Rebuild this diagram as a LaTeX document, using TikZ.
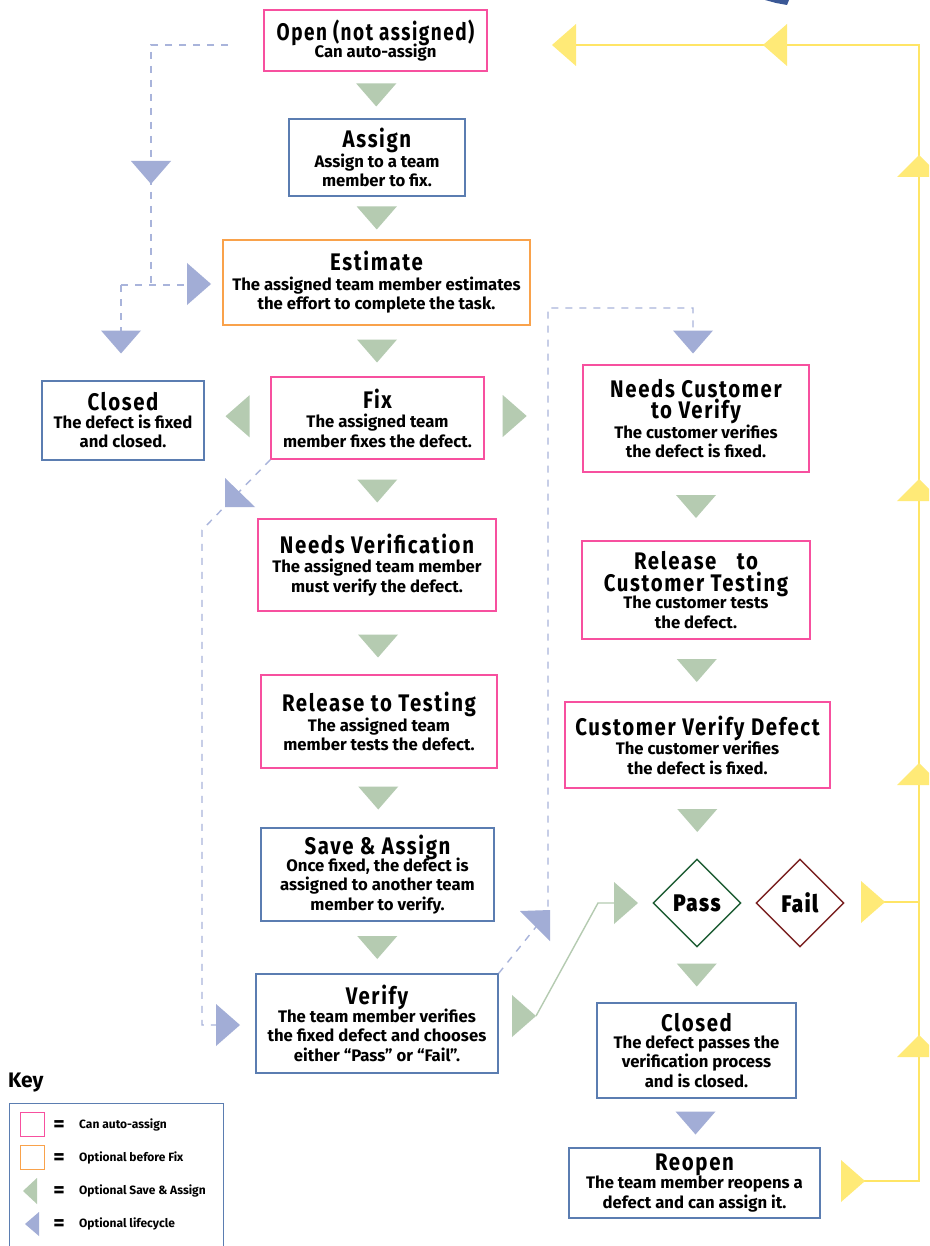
\documentclass[tikz,border=0pt]{standalone}
\usepackage{fontspec}
\usepackage{graphicx}
\usetikzlibrary{calc,shapes.geometric}
\setmainfont{Fira Sans}
\IfFontExistsTF{Fira Sans Black}
 {\newfontfamily\tfam[LetterSpace=8]{Fira Sans Black}\newcommand\tfnt{\tfam}}
 {\newfontfamily\tfam[LetterSpace=8,FakeBold=1.6]{Fira Sans}\newcommand\tfnt{\tfam\bfseries}}
\newcommand\ttl[2][0.85]{\scalebox{#1}[1]{\tfnt\fontsize{24}{25}\selectfont #2}}
\newcommand\bodyf{\fontsize{16.7}{19.5}\selectfont\bfseries}
\definecolor{pinkc}{HTML}{F7509F}
\definecolor{orangec}{HTML}{F9A24B}
\definecolor{bluec}{HTML}{5B7DB1}
\definecolor{gfill}{HTML}{B5CBB1}
\definecolor{bfill}{HTML}{A2ADD6}
\definecolor{dashc}{HTML}{A9B4DB}
\definecolor{yfill}{HTML}{FFEA77}
\definecolor{ylinec}{HTML}{FFE566}
\definecolor{passc}{HTML}{1F5E35}
\definecolor{failc}{HTML}{7B2222}
\definecolor{topblue}{HTML}{3A5896}
\begin{document}
\begin{tikzpicture}[x=1pt,y=-1pt,
  box/.style={draw, line width=1.4pt, fill=white, align=center, inner sep=2pt, font=\bodyf},
  pinkbox/.style={box, draw=pinkc},
  bluebox/.style={box, draw=bluec},
  orangebox/.style={box, draw=orangec},
  dia/.style={diamond, aspect=1, minimum size=88pt, inner sep=0pt, line width=1.4pt, fill=white},
  dashln/.style={draw=dashc, line width=1.4pt, dash pattern=on 7pt off 7pt},
  yline/.style={draw=ylinec, line width=2pt},
  gline/.style={draw=gfill, line width=1.4pt},
  pics/tridown/.style={code={\fill[#1] (-20,-11.5) -- (20,-11.5) -- (0,11.5) -- cycle;}},
  pics/triup/.style={code={\fill[#1] (-22,11) -- (22,11) -- (0,-11) -- cycle;}},
  pics/trileft/.style={code={\fill[#1] (12,-21) -- (12,21) -- (-12,0) -- cycle;}},
  pics/triright/.style={code={\fill[#1] (-12,-21) -- (-12,21) -- (12,0) -- cycle;}},
  keytxt/.style={anchor=west, inner sep=0pt, font=\fontsize{12}{13}\selectfont\bfseries},
  keyeq/.style={inner sep=0pt, font=\fontsize{22}{22}\selectfont\bfseries}
]
\useasboundingbox (0,0) rectangle (929,1246);
\clip (0,0) rectangle (929,1246);
\fill[white] (0,0) rectangle (929,1246);

% ---------- left column ----------
\node[pinkbox, minimum width=223pt, minimum height=61pt] (open) at (375.5,40.5)
  {\ttl[0.79]{Open (not assigned)}\\[-2pt] Can auto-assign};
\node[bluebox, minimum width=176pt, minimum height=77pt] (assign) at (377,157.5)
  {\ttl{Assign}\\ Assign to a team\\ member to fix.};
\node[orangebox, minimum width=307pt, minimum height=85pt] (estimate) at (376.5,282.5)
  {\ttl{Estimate}\\ The assigned team member estimates\\ the effort to complete the task.};
\node[pinkbox, minimum width=213pt, minimum height=82pt] (fix) at (377.5,418)
  {\ttl{Fix}\\ The assigned team\\ member fixes the defect.};
\node[bluebox, minimum width=162pt, minimum height=79pt] (closedL) at (123,420.5)
  {\ttl{Closed}\\[-2pt] The defect is fixed\\ and closed.};
\node[pinkbox, minimum width=238pt, minimum height=92pt] (needsver) at (377,565)
  {\ttl{Needs Verification}\\ The assigned team member\\ must verify the defect.};
\node[pinkbox, minimum width=236pt, minimum height=93pt] (reltest) at (379,721.5)
  {\ttl{Release to Testing}\\ The assigned team\\ member tests the defect.};
\node[bluebox, minimum width=233pt, minimum height=93pt] (saveas) at (377.5,874.5)
  {\ttl{Save \& Assign}\\[-3pt] Once fixed, the defect is\\ assigned to another team\\ member to verify.};
\node[bluebox, minimum width=242pt, minimum height=99pt] (verify) at (377,1023.5)
  {\ttl{Verify}\\[-2pt] The team member verifies\\ the fixed defect and chooses\\ either “Pass” or “Fail”.};

% ---------- right column ----------
\node[pinkbox, minimum width=226pt, minimum height=107pt] (needscust) at (696,418.5)
  {\ttl{Needs Customer}\\[1pt] \ttl{to Verify}\\ The customer verifies\\ the defect is fixed.};
\node[pinkbox, minimum width=228pt, minimum height=98pt] (relcust) at (696,590)
  {\ttl{Release\quad to}\\[1pt] \ttl{Customer Testing}\\[-2pt] The customer tests\\ the defect.};
\node[pinkbox, minimum width=265pt, minimum height=86pt] (custver) at (697.5,745)
  {\ttl{Customer Verify Defect}\\ The customer verifies\\ the defect is fixed.};
\node[dia, draw=passc] (pass) at (697,903) {\ttl{Pass}};
\node[dia, draw=failc] (fail) at (800,903) {\ttl{Fail}};
\node[bluebox, minimum width=199pt, minimum height=95pt] (closedR) at (696.5,1050.5)
  {\ttl{Closed}\\[-3pt] The defect passes the\\ verification process\\ and is closed.};
\node[bluebox, minimum width=251pt, minimum height=70pt, inner sep=1pt] (reopen) at (694.5,1183)
  {\ttl{Reopen}\\[-1pt] The team member reopens a\\ defect and can assign it.};

% ---------- green step triangles ----------
\pic at ($(open.south)!0.5!(assign.north)$) {tridown=gfill};
\pic at ($(assign.south)!0.5!(estimate.north)$) {tridown=gfill};
\pic at ($(estimate.south)!0.5!(fix.north)$) {tridown=gfill};
\pic at ($(fix.south)!0.5!(needsver.north)+(0,2)$) {tridown=gfill};
\pic at ($(needsver.south)!0.5!(reltest.north)+(0,3)$) {tridown=gfill};
\pic at ($(reltest.south)!0.5!(saveas.north)$) {tridown=gfill};
\pic at ($(saveas.south)!0.5!(verify.north)$) {tridown=gfill};
\pic at ($(closedL.east)!0.5!(fix.west)+(0,-3)$) {trileft=gfill};
\pic at ($(fix.east)+(30,-2)$) {triright=gfill};
\pic at ($(needscust.south)!0.5!(relcust.north)$) {tridown=gfill};
\pic at ($(relcust.south)!0.5!(custver.north)$) {tridown=gfill};
\pic at ($(custver.south)!0.5!(pass.north)+(0,-3)$) {tridown=gfill};
\pic at ($(pass.south)!0.5!(closedR.north)$) {tridown=gfill};
\pic at ($(closedR.south)!0.5!(reopen.north)$) {tridown=bfill};

% ---------- green Verify -> Pass ----------
\coordinate (vr) at (536,1016);
\coordinate (gk) at (598,903);
\coordinate (pt) at (614,903);
\draw[gline] (vr) -- (gk) -- (pt);
\pic at (524,1016) {triright=gfill};
\pic at (626,903) {triright=gfill};

% ---------- blue dashed lifecycle ----------
\coordinate (d1a) at (228,45);
\coordinate (d1b) at (151,45);
\coordinate (d1c) at (151,285);
\coordinate (d1d) at (121,285);
\coordinate (d1e) at (187,285);
\coordinate (d1f) at (121,331);
\draw[dashln] (d1a) -- (d1b) -- (d1c);
\draw[dashln] (d1d) -- (d1e);
\draw[dashln] (d1d) -- (d1f);
\pic at (151,172.5) {tridown=bfill};
\pic at (199,284) {triright=bfill};
\pic at (121,342) {tridown=bfill};

\coordinate (d2a) at (202,530);
\coordinate (d2b) at (202,1025);
\coordinate (d2c) at (216,1025);
\draw[dashln] (fix.south west) -- (d2a) -- (d2b) -- (d2c);
\fill[bfill] (225,478) -- (255,507) -- (225,507) -- cycle;
\pic at (228,1025) {triright=bfill};

\coordinate (d3a) at (548,912);
\coordinate (d3b) at (548,308);
\coordinate (d3c) at (693,308);
\coordinate (d3d) at (693,331);
\draw[dashln] (verify.north east) -- (d3a) -- (d3b) -- (d3c) -- (d3d);
\fill[bfill] (520,911) -- (550,910) -- (550,941) -- cycle;
\pic at (693,342) {tridown=bfill};

% ---------- yellow reopen loop ----------
\coordinate (ya) at (864,1181);
\coordinate (yb) at (919,1181);
\coordinate (yc) at (919,45);
\coordinate (yd) at (560,45);
\coordinate (yf1) at (884,902);
\coordinate (yf2) at (919,902);
\draw[yline] (ya) -- (yb) -- (yc) -- (yd);
\draw[yline] (yf1) -- (yf2);
\pic at (564,45) {trileft=yfill};
\pic at (775,45) {trileft=yfill};
\pic at (919,166) {triup=yfill};
\pic at (919,490) {triup=yfill};
\pic at (919,774) {triup=yfill};
\pic at (919,1046) {triup=yfill};
\pic at (873,902) {triright=yfill};
\pic at (853,1181) {triright=yfill};

% fragment at top edge
\fill[topblue] (765,0) -- (789,0) -- (787,5) -- (776,3) -- cycle;

% ---------- key ----------
\node[anchor=west, inner sep=0pt, font=\fontsize{21}{24}\selectfont\bfseries] (keyt) at (8,1083) {Key};
\node[draw=bluec, line width=1.3pt, minimum width=214pt, minimum height=170pt, anchor=north west, inner sep=0pt] (keybox) at (9,1103) {};
\node[draw=pinkc, line width=1.3pt, minimum size=24pt, inner sep=0pt] (k1) at (32.5,1124.5) {};
\node[draw=orangec, line width=1.3pt, minimum size=24pt, inner sep=0pt] (k2) at (32.5,1157.5) {};
\fill[gfill] (23,1191) -- (37,1178) -- (37,1204) -- cycle;
\fill[bfill] (25,1224) -- (39,1212) -- (39,1236) -- cycle;
\node[keyeq] (e1) at (59,1126) {=};
\node[keyeq] (e2) at (59,1159) {=};
\node[keyeq] (e3) at (59,1192) {=};
\node[keyeq] (e4) at (59,1225) {=};
\node[keytxt] (t1) at (79,1125) {Can auto-assign};
\node[keytxt] (t2) at (79,1158) {Optional before Fix};
\node[keytxt] (t3) at (79,1191) {Optional Save \& Assign};
\node[keytxt] (t4) at (79,1224) {Optional lifecycle};
\end{tikzpicture}
\end{document}
